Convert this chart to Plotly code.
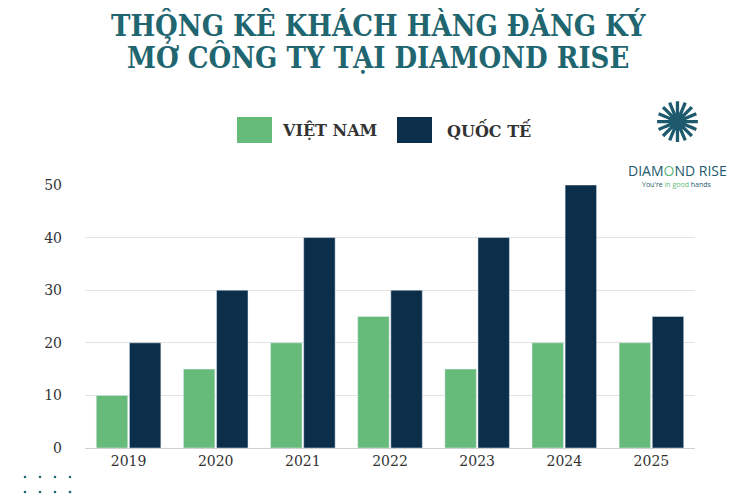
import plotly.graph_objects as go

years = ["2019", "2020", "2021", "2022", "2023", "2024", "2025"]
vietnam = [10, 15, 20, 25, 15, 20, 20]
quocte = [20, 30, 40, 30, 40, 50, 25]

GREEN = "#66bb7a"
NAVY = "#0b2e4a"
TEAL = "#1f6670"
SERIF = "DejaVu Serif"
TSERIF = "DejaVu Serif Condensed, Liberation Sans Narrow, Liberation Serif"

OFF = 8  # page body margin
L, T = 85 - OFF, 185 - OFF
fig = go.Figure()
fig.add_bar(x=years, y=vietnam, name="VIỆT NAM", marker_color=GREEN)
fig.add_bar(x=years, y=quocte, name="QUỐC TẾ", marker_color=NAVY)

fig.update_layout(
    width=750, height=500, barmode="group", bargap=0.24, bargroupgap=0.05,
    showlegend=False, plot_bgcolor="white", paper_bgcolor="white",
    margin=dict(l=L, r=750 - L - 610, t=T, b=500 - T - 263, autoexpand=False),
    font=dict(family=SERIF, color="#333", size=14),
)
fig.update_yaxes(range=[0, 50], dtick=10, gridcolor="#e3e3e3", zeroline=False,
                 ticks="", ticklabelstandoff=22, showline=False, automargin=False)
fig.update_xaxes(showline=True, linecolor="#cfcfcf", ticks="", automargin=False)

def px(x, y):
    return (x-85)/610, (448-y)/263

shapes = []
for x0, x1, c in [(237, 272, GREEN), (397, 432, NAVY)]:
    a0, b0 = px(x0, 143); a1, b1 = px(x1, 117)
    shapes.append(dict(type="rect", xref="paper", yref="paper", x0=a0, x1=a1, y0=b0, y1=b1,
                       fillcolor=c, line_width=0))
for row in range(2):
    for col in range(4):
        cx, cy = 25 + col * 15, 477 + row * 15
        a0, b0 = px(cx-1.3, cy+1.3); a1, b1 = px(cx+1.3, cy-1.3)
        shapes.append(dict(type="circle", xref="paper", yref="paper",
                           x0=a0, x1=a1, y0=b0, y1=b1, fillcolor=TEAL, line_width=0))
fig.update_layout(shapes=shapes)

ann = []
def add(x, y, t, font, xa="center"):
    ax, ay = px(x, y)
    ann.append(dict(x=ax, y=ay, xref="paper", yref="paper", text=t, showarrow=False,
                    xanchor=xa, yanchor="middle", font=font))

for y, t in [(23, "THỐNG KÊ KHÁCH HÀNG ĐĂNG KÝ"), (56, "MỞ CÔNG TY TẠI DIAMOND RISE")]:
    add(378, y, t, dict(family=TSERIF, size=29, color=TEAL, weight="bold"))
add(280, 130, "VIỆT NAM", dict(family=SERIF, size=16, color="#333", weight="bold"), "left")
add(445, 130, "QUỐC TẾ", dict(family=SERIF, size=16, color="#333", weight="bold"), "left")
add(677, 122, "✺", dict(size=56, color="#1d5a6e"))
add(677, 170, "DIAM<span style='color:#5cb87a'>O</span>ND RISE",
    dict(family="Open Sans", size=14, color="#1d5a6e"))
add(677, 184, "You're <span style='color:#5cb87a'>in good</span> hands",
    dict(family="Open Sans", size=7, color="#1d5a6e"))
fig.update_layout(annotations=ann)

fig.write_html("out.html")
